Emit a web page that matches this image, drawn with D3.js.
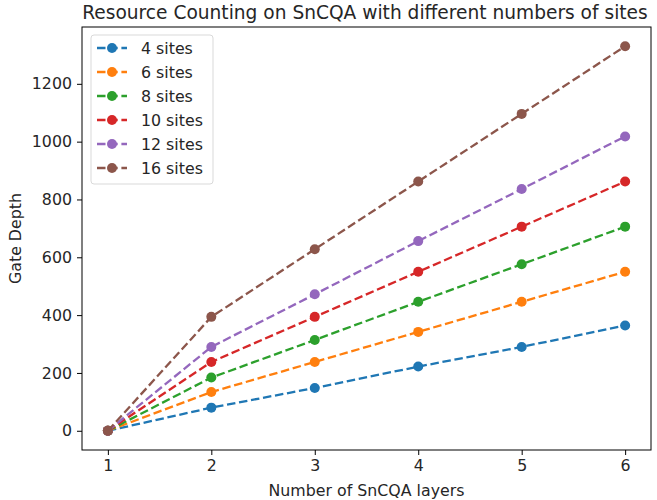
<!DOCTYPE html>
<html><head><meta charset="utf-8">
<script src="https://cdn.jsdelivr.net/npm/d3@7"></script>
<style>body{margin:0;background:#fff}svg{display:block}text{font-family:"DejaVu Sans",sans-serif;fill:#262626}</style>
</head><body><svg id="c" width="657" height="500"></svg>
<script>
const layers = [1, 2, 3, 4, 5, 6];
const seriesNames = ["4 sites", "6 sites", "8 sites", "10 sites", "12 sites", "16 sites"];
const sites4  = [0, 80, 148, 222, 290, 364];
const sites6  = [0, 134, 238, 342, 446, 550];
const sites8  = [0, 184, 314, 446, 576, 706];
const sites10 = [0, 238, 394, 550, 706, 862];
const sites12 = [0, 290, 472, 656, 836, 1018];
const sites16 = [0, 394, 628, 862, 1096, 1330];
const yTicks = [0, 200, 400, 600, 800, 1000, 1200];
const colors = ["#1f77b4", "#ff7f0e", "#2ca02c", "#d62728", "#9467bd", "#8c564b"];
const allSeries = [sites4, sites6, sites8, sites10, sites12, sites16];

const svg = d3.select("#c");
const L = 82, R = 651, T = 27, B = 450;
const xs = d3.scaleLinear().domain([0.75, 6.25]).range([L, R]);
const ymax = 1330 * 1.05, ymin = -1330 * 0.05;
const ys = d3.scaleLinear().domain([ymin, ymax]).range([B, T]);
const FS = "15.8px";

// axes
const xAxis = svg.append("g").attr("transform", `translate(0,${B})`)
  .call(d3.axisBottom(xs).tickValues(layers).tickFormat(d3.format("d")).tickSize(5).tickPadding(5));
const yAxis = svg.append("g").attr("transform", `translate(${L},0)`)
  .call(d3.axisLeft(ys).tickValues(yTicks).tickFormat(d3.format("d")).tickSize(5).tickPadding(5));
[xAxis, yAxis].forEach(g => {
  g.select(".domain").remove();
  g.selectAll("line").attr("stroke", "#000").attr("stroke-width", 1);
  g.selectAll("text").style("font-family", "DejaVu Sans").style("font-size", FS).attr("fill", "#262626");
});

// lines
const line = d3.line().x((d, i) => xs(layers[i])).y(d => ys(d));
allSeries.forEach((s, k) => {
  svg.append("path").datum(s).attr("d", line).attr("fill", "none")
    .attr("stroke", colors[k]).attr("stroke-width", 2.3).attr("stroke-dasharray", "8.5,3.7");
  svg.selectAll(null).data(s).enter().append("circle")
    .attr("cx", (d, i) => xs(layers[i])).attr("cy", d => ys(d)).attr("r", 5).attr("fill", colors[k]);
});

// frame
svg.append("rect").attr("x", L).attr("y", T).attr("width", R - L).attr("height", B - T)
  .attr("fill", "none").attr("stroke", "#000").attr("stroke-width", 1);

// legend
const lg = svg.append("g");
lg.append("rect").attr("x", 91).attr("y", 35).attr("width", 122).attr("height", 149).attr("rx", 3)
  .attr("fill", "#fff").attr("fill-opacity", 0.8).attr("stroke", "#d9d9d9");
seriesNames.forEach((n, k) => {
  const yy = 48 + k * 24;
  lg.append("line").attr("x1", 97).attr("x2", 127).attr("y1", yy).attr("y2", yy)
    .attr("stroke", colors[k]).attr("stroke-width", 2.3).attr("stroke-dasharray", "8.5,3.7");
  lg.append("circle").attr("cx", 112).attr("cy", yy).attr("r", 5).attr("fill", colors[k]);
  lg.append("text").attr("x", 141).attr("y", yy).attr("dy", "0.35em").style("font-size", FS).text(n);
});

// labels
svg.append("text").attr("x", 365).attr("y", 19).attr("text-anchor", "middle")
  .style("font-size", "18.6px").text("Resource Counting on SnCQA with different numbers of sites");
svg.append("text").attr("x", (L + R) / 2).attr("y", 496).attr("text-anchor", "middle")
  .style("font-size", FS).text("Number of SnCQA layers");
svg.append("text").attr("transform", `translate(21,${(T + B) / 2}) rotate(-90)`).attr("text-anchor", "middle")
  .style("font-size", FS).text("Gate Depth");
</script></body></html>
